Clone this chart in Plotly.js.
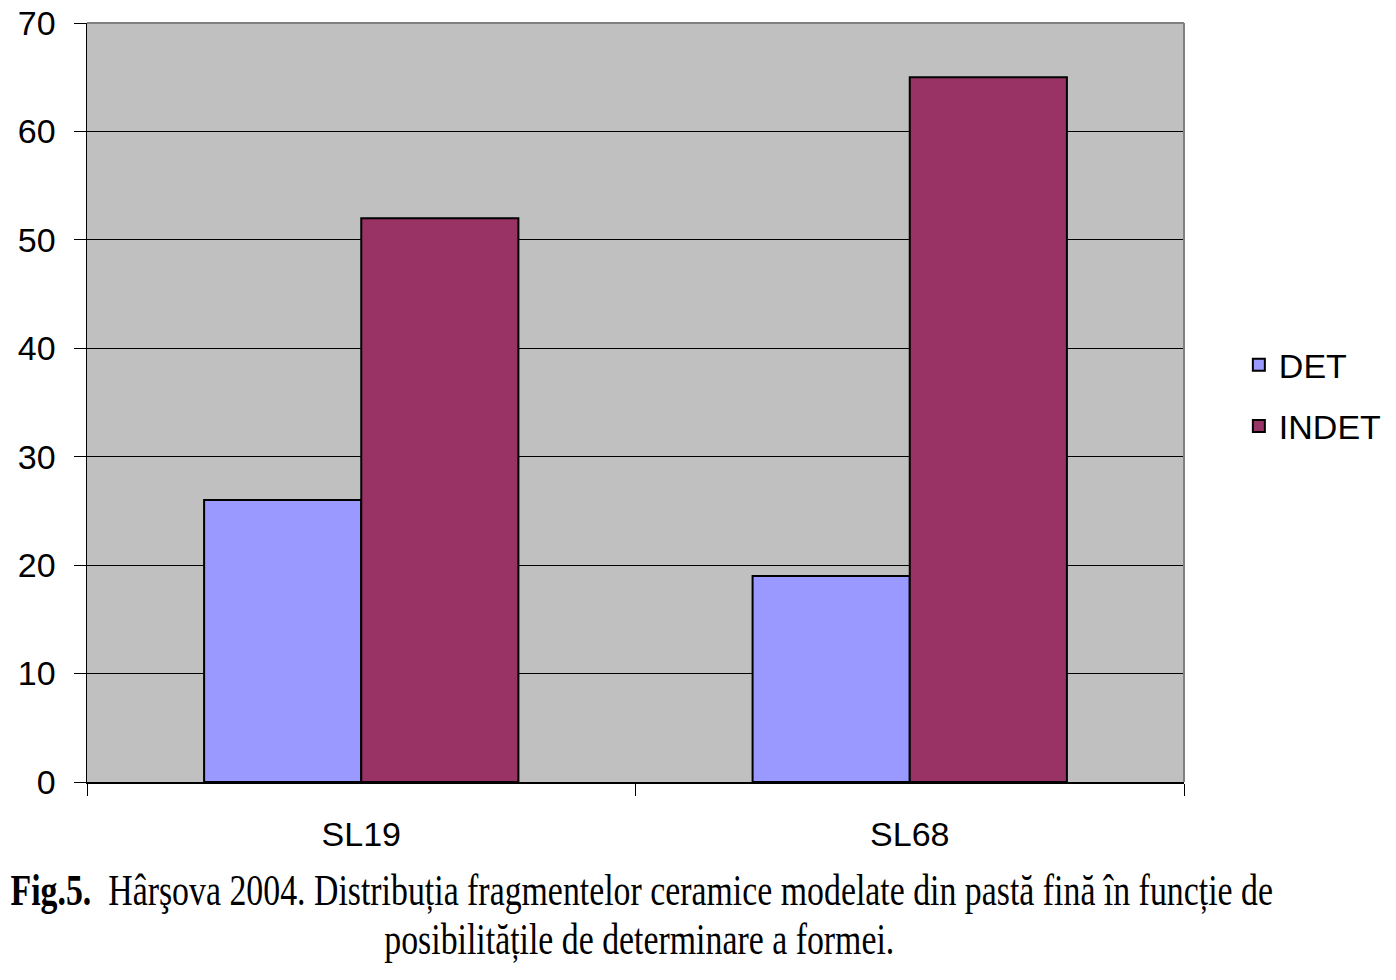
<!DOCTYPE html>
<html>
<head>
<meta charset="utf-8">
<script src="https://cdn.plot.ly/plotly-3.0.1.min.js"></script>
<style>html,body{margin:0;padding:0;background:#fff;}#chart{width:1396px;height:980px;}</style>
</head>
<body>
<div id="chart"></div>
<script>
const categories = ["SL19", "SL68"];
const detValues = [26, 19];
const indetValues = [52, 65];
const seriesNames = ["DET", "INDET"];
const yTicks = [0, 10, 20, 30, 40, 50, 60, 70];
const captionLine1 = "<b>Fig.5.</b>  Hârşova 2004. Distribuția fragmentelor ceramice modelate din pastă fină în funcție de";
const captionLine2 = "posibilitățile de determinare a formei.";

const sans = "Liberation Sans, Arial, sans-serif";
const serif = "Liberation Serif, Times New Roman, serif";

const traces = [
  {type: "bar", name: seriesNames[0], x: categories, y: detValues,
   marker: {color: "#9999FF", line: {color: "#000000", width: 2}}, legendgroup: "a"},
  {type: "bar", name: seriesNames[1], x: categories, y: indetValues,
   marker: {color: "#993366", line: {color: "#000000", width: 2}}, legendgroup: "b"}
];

const layout = {
  width: 1396, height: 980,
  margin: {l: 87, r: 212, t: 23, b: 198, autoexpand: false},
  paper_bgcolor: "#ffffff",
  plot_bgcolor: "#C0C0C0",
  barmode: "group",
  bargap: 0.427,
  bargroupgap: 0,
  showlegend: true,
  legend: {x: 1.05, y: 0.509, xanchor: "left", yanchor: "middle",
           font: {family: sans, size: 34, color: "#000"}, bgcolor: "rgba(0,0,0,0)",
           traceorder: "grouped", tracegroupgap: 14, itemwidth: 30},
  xaxis: {type: "category", tickson: "boundaries", ticks: "outside", ticklen: 12, tickcolor: "#000",
          showline: true, linecolor: "#000", linewidth: 1.5, showgrid: false,
          tickfont: {family: sans, size: 34, color: "#000"}, ticklabelstandoff: 22},
  yaxis: {range: [0, 70], tickvals: yTicks, ticks: "outside", ticklen: 12, tickcolor: "#000",
          showline: true, linecolor: "#000", linewidth: 1.5, showgrid: true, gridcolor: "#000", gridwidth: 1,
          zeroline: false, tickfont: {family: sans, size: 34, color: "#000"}, ticklabelstandoff: 11},
  shapes: [
    {type: "line", xref: "paper", yref: "paper", x0: 0, x1: 1, y0: 1, y1: 1, line: {color: "#808080", width: 2}},
    {type: "line", xref: "paper", yref: "paper", x0: 1, x1: 1, y0: 0, y1: 1, line: {color: "#808080", width: 2}}
  ],
  annotations: [
    {text: captionLine1, xref: "paper", yref: "paper", x: (641 - 87) / 1097, y: -(890 - 782) / 759,
     xanchor: "center", yanchor: "middle", showarrow: false, font: {family: serif, size: 45, color: "#000"}},
    {text: captionLine2, xref: "paper", yref: "paper", x: (639 - 87) / 1097, y: -(939 - 782) / 759,
     xanchor: "center", yanchor: "middle", showarrow: false, font: {family: serif, size: 45, color: "#000"}}
  ]
};

Plotly.newPlot("chart", traces, layout, {displayModeBar: false, staticPlot: true}).then(function (gd) {
  // condense the caption horizontally, as in the scanned figure
  const sx = 0.752;
  gd.querySelectorAll(".annotation-text").forEach(function (t) {
    const bb = t.getBBox();
    const cx = bb.x + bb.width / 2;
    t.setAttribute("transform", "translate(" + cx + ",0) scale(" + sx + ",1) translate(" + (-cx) + ",0)");
  });
});
</script>
</body>
</html>
